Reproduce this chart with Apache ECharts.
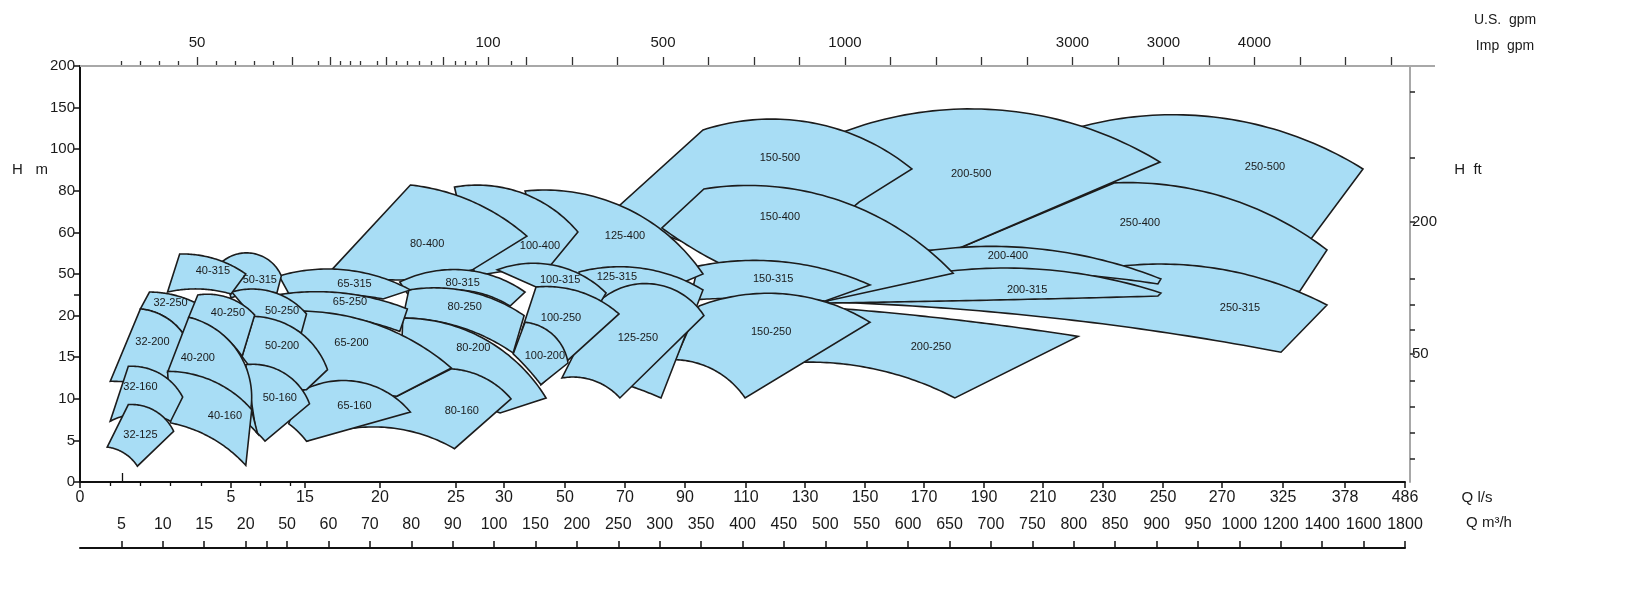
<!DOCTYPE html>
<html><head><meta charset="utf-8">
<script src="https://cdn.jsdelivr.net/npm/echarts@6/dist/echarts.min.js"></script>
<style>html,body{margin:0;padding:0;background:#fff}#c{width:1631px;height:593px}</style>
</head><body><div id="c"></div>
<script>
// ---- scales / tick labels ----
const QTICK = [0,5,15,20,25,30,50,70,90,110,130,150,170,190,210,230,250,270,325,378,486];   // Q l/s tick labels
const QPOS  = [0,151,225,300,376,424,485,545,605,666,725,785,844,904,963,1023,1083,1142,1203,1265,1325]; // their axis positions
const QMINOR = [1,2,3,4,9,13];
const HTICK = [0,5,10,15,20,50,60,80,100,150,200];  // H m tick labels (equally spaced)
const M3H = [5,10,15,20,50,60,70,80,90,100,150,200,250,300,350,400,450,500,550,600,650,700,750,800,850,900,950,1000,1200,1400,1600,1800];
const GPM_LABELS = ['50','100','500','1000','3000','3000','4000'];
const GPM_LABEL_POS = [117,408,583,765,992.5,1083.5,1174.5];
const GPM_MINOR_POS = [41,60,79,98,136,155,174,193,238,260,270,280,297,316,327,339,351,375,385,396,431];
const GPM_MAJOR_POS = [117,212,250,306,363,408,446,492,537.5,583,628.5,674,719.5,765,810.5,856,901.5,947,992.5,1038,1083.5,1129,1174.5,1220,1265.5,1311];
const FT_LABELS = ['200','50'];
const FT_LABEL_POS = [6.25,3.08];
const FT_TICK_POS = [9.38,7.80,6.25,4.89,4.27,3.65,3.08,2.43,1.81,1.19,0.57];

// ---- pump ranges: [model, top-left, top-right, bottom-right, bottom-left ([Q l/s, H m]), H at top-arc middle, H at bottom-arc middle, label [Q,H]] ----
const REGIONS = [
 ['250-500', [222.3,126.7],[410.4,90.5],[348.9,58.4],[233.7,83.8], 137.5, 62.0, [308.8,91.4]],
 ['250-400', [233.7,83.8],[362.6,55.8],[339.5,37.7],[178.7,55.3], 77.5, 42.1, [242.3,64.5]],
 ['250-315', [236.3,51.9],[362.6,27.6],[323.2,15.6],[137.3,29.8], 51.0, 19.7, [286.2,25.5]],
 ['200-500', [141.0,118.3],[249.0,93.8],[180.3,55.8],[143.3,68.4], 147.1, 57.0, [185.7,88.1]],
 ['200-400', [168.6,55.3],[249.3,46.4],[248.3,42.8],[175.3,49.3], 56.0, 50.2, [198.1,54.3]],
 ['200-315', [137.3,30.5],[249.3,36.3],[248.3,34.1],[138.0,29.1], 51.4, 31.2, [204.6,38.5]],
 ['200-250', [139.3,25.5],[221.7,17.5],[180.3,10.1],[128.3,14.4], 19.5, 13.5, [172.3,16.2]],
 ['150-500', [95.9,123.1],[165.9,90.5],[148.0,74.6],[68.0,72.7], 132.7, 55.8, [121.5,95.8]],
 ['150-400', [96.2,80.9],[179.7,50.2],[137.3,30.5],[82.3,62.1], 77.0, 49.3, [121.5,67.4]],
 ['150-315', [94.3,51.9],[151.7,42.1],[136.7,30.5],[91.6,31.2], 52.9, 32.7, [119.2,46.4]],
 ['150-250', [94.6,26.9],[151.7,19.2],[109.7,10.1],[86.7,14.7], 35.6, 13.7, [118.5,18.0]],
 ['125-400', [36.9,79.9],[95.9,50.0],[89.7,44.2],[44.4,50.5], 74.1, 44.2, [70.0,59.1]],
 ['125-315', [54.7,50.5],[95.9,38.5],[82.0,10.1],[53.3,13.2], 51.4, 12.0, [67.3,47.8]],
 ['125-250', [62.3,32.0],[96.2,20.0],[68.3,10.1],[49.0,12.5], 42.8, 12.3, [74.3,17.3]],
 ['100-400', [24.9,81.8],[54.3,60.2],[45.4,52.2],[27.0,48.6], 79.9, 51.0, [41.8,56.7]],
 ['100-315', [29.3,51.0],[63.7,36.3],[61.7,29.1],[40.5,40.6], 52.2, 37.0, [48.4,45.7]],
 ['100-250', [40.5,40.6],[68.0,21.2],[42.1,11.7],[35.9,18.3], 37.7, 15.6, [48.7,19.7]],
 ['100-200', [36.9,19.2],[51.0,14.3],[42.1,11.7],[33.0,15.4], 18.3, 13.7, [43.4,15.1]],
 ['80-400',  [22.0,82.8],[37.5,59.1],[26.7,51.0],[16.7,50.7], 75.6, 45.7, [23.1,57.2]],
 ['80-315',  [21.3,44.2],[36.9,37.0],[32.0,26.9],[22.0,32.7], 51.0, 38.5, [25.7,43.5]],
 ['80-250',  [21.9,38.5],[36.6,20.0],[33.0,15.5],[21.5,19.7], 37.7, 18.7, [25.9,26.2]],
 ['80-200',  [21.5,19.7],[43.8,10.1],[29.6,8.3],[21.3,9.9], 17.8, 9.9, [26.8,16.1]],
 ['80-160',  [24.7,13.6],[32.3,10.0],[24.9,4.0],[15.1,4.9], 12.7, 6.6, [25.6,8.5]],
 ['65-315',  [11.5,48.6],[22.0,38.5],[20.2,32.0],[13.0,34.1], 51.0, 35.6, [18.3,42.8]],
 ['65-250',  [11.2,34.9],[21.8,24.8],[21.3,18.1],[14.9,22.6], 36.3, 19.7, [18.0,29.8]],
 ['65-200',  [14.1,23.3],[24.7,13.7],[21.1,10.3],[14.3,10.5], 19.0, 10.8, [18.1,16.7]],
 ['65-160',  [14.3,10.8],[22.0,8.4],[15.1,4.9],[12.8,7.0], 12.1, 6.1, [18.3,9.1]],
 ['50-315',  [4.7,52.9],[11.8,48.6],[11.2,36.3],[5.0,32.7], 55.0, 37.0, [8.9,45.7]],
 ['50-250',  [5.1,37.0],[15.1,21.2],[14.5,17.9],[8.1,19.7], 37.7, 19.2, [11.9,23.3]],
 ['50-200',  [8.1,19.9],[16.5,13.5],[15.1,11.1],[6.5,15.1], 18.7, 11.8, [11.9,16.3]],
 ['50-160',  [7.0,14.1],[15.3,9.4],[9.6,4.9],[8.4,6.0], 13.5, 5.5, [11.6,10.1]],
 ['40-315',  [3.3,54.8],[7.0,50.0],[5.0,35.6],[2.9,37.0], 53.8, 39.2, [4.4,50.7]],
 ['32-250',  [2.3,37.0],[3.9,28.4],[3.4,17.9],[2.0,24.8], 34.9, 20.4, [3.0,29.1]],
 ['32-200',  [2.0,24.8],[3.4,17.9],[3.1,10.8],[1.0,12.1], 20.4, 11.8, [2.4,16.8]],
 ['40-250',  [3.9,34.9],[8.2,20.4],[6.5,15.1],[3.6,19.8], 33.4, 18.3, [4.9,21.9]],
 ['40-200',  [3.6,19.8],[7.7,8.9],[8.6,5.8],[2.9,13.2], 18.0, 10.5, [3.9,14.9]],
 ['40-160',  [2.9,13.3],[7.8,8.7],[7.0,2.0],[3.0,7.1], 12.3, 5.5, [4.8,7.9]],
 ['32-160',  [1.6,13.9],[3.4,10.2],[3.0,7.3],[1.0,7.3], 13.3, 8.2, [2.0,11.4]],
 ['32-125',  [1.6,9.3],[3.1,6.1],[1.9,1.9],[0.9,4.2], 8.8, 3.6, [2.0,5.6]]
];

// ---- helpers ----
function interp(v, xs, ys){
  let i = 0;
  while (i < xs.length - 2 && v > xs[i+1]) i++;
  return ys[i] + (v - xs[i]) * (ys[i+1] - ys[i]) / (xs[i+1] - xs[i]);
}
const HIDX = HTICK.map((_, i) => i);
const qToPos = q => interp(q, QTICK, QPOS);
const hToIdx = h => interp(h, HTICK, HIDX);
function arcPts(p0, pm, p2, n){
  const ax=p0[0], ay=p0[1], bx=pm[0], by=pm[1], cx=p2[0], cy=p2[1];
  const d = 2*(ax*(by-cy)+bx*(cy-ay)+cx*(ay-by));
  if (Math.abs(d) < 1e-3) return [p0, p2];
  const ux = ((ax*ax+ay*ay)*(by-cy)+(bx*bx+by*by)*(cy-ay)+(cx*cx+cy*cy)*(ay-by))/d;
  const uy = ((ax*ax+ay*ay)*(cx-bx)+(bx*bx+by*by)*(ax-cx)+(cx*cx+cy*cy)*(bx-ax))/d;
  const r = Math.hypot(ax-ux, ay-uy);
  if (r > 1e5) return [p0, p2];
  const TP = 2*Math.PI, norm = a => ((a % TP) + TP) % TP;
  const a0 = Math.atan2(ay-uy, ax-ux), am = Math.atan2(by-uy, bx-ux), a2 = Math.atan2(cy-uy, cx-ux);
  const d02 = norm(a2-a0), d0m = norm(am-a0);
  const sweep = d0m <= d02 ? d02 : d02 - TP;
  const pts = [];
  for (let i=0;i<=n;i++){ const a=a0+sweep*i/n; pts.push([ux+r*Math.cos(a), uy+r*Math.sin(a)]); }
  return pts;
}
const lookup = (v, pos, labels) => { const i = pos.findIndex(p => Math.abs(p - v) < 0.01); return i >= 0 ? String(labels[i]) : ''; };

const FONT = "'Liberation Sans', Arial, sans-serif";
const NARROW = "'Liberation Sans Narrow', 'Arial Narrow', 'Liberation Sans', Arial, sans-serif";
const FILL = '#a8ddf5', EDGE = '#1c1c1c', TXT = '#1a1a1a';
const regionData = REGIONS.map((r, i) => [qToPos(r[7][0]), hToIdx(r[7][1]), i]);
const M3H_IDX = M3H.map((_, i) => i + 1);

const chart = echarts.init(document.getElementById('c'), null, {renderer:'canvas'});
const baseX = {type:'value', min:0, max:1325, splitLine:{show:false}, axisLine:{show:false, onZero:false}, axisLabel:{show:false}, axisTick:{show:false}};
chart.setOption({
  animation:false,
  backgroundColor:'#fff',
  grid:[{left:80, right:226, top:66, bottom:111}, {left:80, right:226, top:547, height:1}],
  xAxis:[
    Object.assign({}, baseX, {gridIndex:0, position:'bottom',
      axisLine:{show:true, onZero:false, lineStyle:{color:'#111', width:2}},
      axisTick:{show:true, customValues:QPOS, length:6, lineStyle:{color:'#111', width:1.5}},
      axisLabel:{show:true, customValues:QPOS, formatter:v => lookup(v, QPOS, QTICK), fontSize:16, color:TXT, margin:8, fontFamily:NARROW}}),
    Object.assign({}, baseX, {gridIndex:0, position:'bottom',
      axisTick:{show:true, customValues:QMINOR.map(qToPos), length:4, lineStyle:{color:'#111', width:1.3}}}),
    Object.assign({}, baseX, {gridIndex:0, position:'bottom',
      axisTick:{show:true, inside:true, customValues:[qToPos(1.4)], length:9, lineStyle:{color:'#111', width:1.3}}}),
    Object.assign({}, baseX, {gridIndex:0, position:'top',
      axisTick:{show:true, customValues:GPM_MINOR_POS, length:5, lineStyle:{color:'#333', width:1.3}}}),
    Object.assign({}, baseX, {gridIndex:0, position:'top',
      axisTick:{show:true, customValues:GPM_MAJOR_POS, length:9, lineStyle:{color:'#333', width:1.3}},
      axisLabel:{show:true, customValues:GPM_LABEL_POS, formatter:v => lookup(v, GPM_LABEL_POS, GPM_LABELS), fontSize:15, color:TXT, margin:16, fontFamily:FONT}}),
    {gridIndex:1, type:'value', min:0, max:32, position:'bottom', splitLine:{show:false},
      axisLine:{show:true, onZero:false, lineStyle:{color:'#111', width:2}},
      axisTick:{show:true, inside:true, customValues:M3H_IDX.concat([4.5]), length:7, lineStyle:{color:'#111', width:1.5}},
      axisLabel:{show:true, inside:true, customValues:M3H_IDX, formatter:v => lookup(v, M3H_IDX, M3H), fontSize:16, color:TXT, margin:15, fontFamily:NARROW}}
  ],
  yAxis:[
    {gridIndex:0, type:'value', min:0, max:10, position:'left', splitLine:{show:false},
      axisLine:{show:true, onZero:false, lineStyle:{color:'#111', width:2}},
      axisTick:{show:true, customValues:HIDX.concat([4.5]), length:6, lineStyle:{color:'#111', width:1.5}},
      axisLabel:{show:true, customValues:HIDX, formatter:v => lookup(v, HIDX, HTICK), fontSize:15, color:TXT, margin:5, fontFamily:FONT}},
    {gridIndex:0, type:'value', min:0, max:10, position:'right', offset:5, splitLine:{show:false},
      axisLine:{show:true, onZero:false, lineStyle:{color:'#a8a8a8', width:2}},
      axisTick:{show:true, customValues:FT_TICK_POS, length:5, lineStyle:{color:'#222', width:1.5}},
      axisLabel:{show:true, customValues:FT_LABEL_POS, formatter:v => lookup(v, FT_LABEL_POS, FT_LABELS), fontSize:15, color:TXT, margin:2, fontFamily:FONT}},
    {gridIndex:1, type:'value', show:false}
  ],
  graphic:[
    {type:'line', shape:{x1:80, y1:66, x2:1435, y2:66}, style:{stroke:'#a8a8a8', lineWidth:2}, z:1},
    {type:'text', x:30, y:170, style:{text:'H   m', fontSize:15, fill:TXT, fontFamily:FONT, align:'center', verticalAlign:'middle'}},
    {type:'text', x:1468, y:170, style:{text:'H  ft', fontSize:15, fill:TXT, fontFamily:FONT, align:'center', verticalAlign:'middle'}},
    {type:'text', x:1505, y:20, style:{text:'U.S.  gpm', fontSize:14, fill:TXT, fontFamily:FONT, align:'center', verticalAlign:'middle'}},
    {type:'text', x:1505, y:46, style:{text:'Imp  gpm', fontSize:14, fill:TXT, fontFamily:FONT, align:'center', verticalAlign:'middle'}},
    {type:'text', x:1477, y:498, style:{text:'Q l/s', fontSize:15, fill:TXT, fontFamily:NARROW, align:'center', verticalAlign:'middle'}},
    {type:'text', x:1489, y:523, style:{text:'Q m³/h', fontSize:15, fill:TXT, fontFamily:NARROW, align:'center', verticalAlign:'middle'}}
  ],
  series:[
    {type:'custom', xAxisIndex:0, yAxisIndex:0, data:regionData, encode:{x:0, y:1}, z:2,
      renderItem:(params, api) => {
        const r = REGIONS[api.value(2)];
        const P = p => api.coord([qToPos(p[0]), hToIdx(p[1])]);
        const tl = P(r[1]), tr = P(r[2]), br = P(r[3]), bl = P(r[4]);
        const tm = [(tl[0]+tr[0])/2, api.coord([0, hToIdx(r[5])])[1]];
        const bm = [(br[0]+bl[0])/2, api.coord([0, hToIdx(r[6])])[1]];
        const pts = arcPts(tl, tm, tr, 48).concat(arcPts(br, bm, bl, 48));
        return {type:'polygon', shape:{points:pts}, style:{fill:FILL, stroke:EDGE, lineWidth:1.6, lineJoin:'miter'}};
      }},
    {type:'custom', xAxisIndex:0, yAxisIndex:0, data:regionData, encode:{x:0, y:1}, z:3,
      renderItem:(params, api) => {
        const r = REGIONS[api.value(2)];
        const c = api.coord([api.value(0), api.value(1)]);
        return {type:'text', x:c[0], y:c[1], style:{text:r[0], fontSize:11, fill:TXT, fontFamily:FONT, align:'center', verticalAlign:'middle'}};
      }}
  ]
});
</script></body></html>
